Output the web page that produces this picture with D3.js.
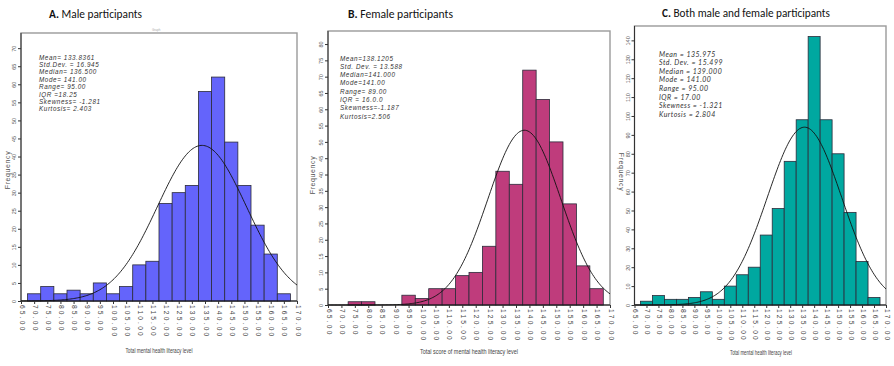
<!DOCTYPE html>
<html>
<head>
<meta charset="utf-8">
<script src="https://cdn.jsdelivr.net/npm/d3@7"></script>
<style>
  body { margin: 0; background: #fff; }
  svg { display: block; }
</style>
</head>
<body>
<div id="vis"></div>
<script>
// bin centres (width 5) and frequencies
const binCenters = [70, 75, 80, 85, 90, 95, 100, 105, 110, 115, 120, 125, 130, 135, 140, 145, 150, 155, 160, 165];
const maleCounts   = [2, 4, 2, 3, 2, 5, 2, 4, 10, 11, 27, 30, 32, 58, 62, 44, 32, 21, 13, 2];
const femaleCounts = [0, 1, 1, 0, 0, 3, 2, 5, 5, 9, 10, 18, 41, 37, 72, 63, 50, 31, 12, 5];
const bothCounts   = [2, 5, 3, 3, 4, 7, 3, 10, 16, 20, 37, 51, 76, 98, 142, 98, 80, 49, 23, 4];

const xTickValues = [65, 70, 75, 80, 85, 90, 95, 100, 105, 110, 115, 120, 125, 130, 135, 140, 145, 150, 155, 160, 165, 170];
const maleYTicks   = [0, 5, 10, 15, 20, 25, 30, 35, 40, 45, 50, 55, 60, 65, 70];
const femaleYTicks = [0, 5, 10, 15, 20, 25, 30, 35, 40, 45, 50, 55, 60, 65, 70, 75, 80];
const bothYTicks   = [0, 10, 20, 30, 40, 50, 60, 70, 80, 90, 100, 110, 120, 130, 140];

// normal fit parameters (from the stats boxes)
const maleFit   = {mean: 133.8361, sd: 16.945};
const femaleFit = {mean: 138.1205, sd: 13.588};
const bothFit   = {mean: 135.975,  sd: 15.499};

const maleStats   = ["Mean= 133.8361", "Std.Dev. = 16.945", "Median= 136.500", "Mode= 141.00", "Range= 95.00", "IQR =18.25", "Skewness= -1.281", "Kurtosis= 2.403"];
const femaleStats = ["Mean=138.1205", "Std. Dev. = 13.588", "Median=141.000", "Mode=141.00", "Range= 89.00", "IQR = 16.0.0", "Skewness=-1.187", "Kurtosis=2.506"];
const bothStats   = ["Mean = 135.975", "Std. Dev. = 15.499", "Median = 139.000", "Mode = 141.00", "Range = 95.00", "IQR = 17.00", "Skewness = -1.321", "Kurtosis = 2.804"];

const panels = [
  {letter: "A.", title: " Male participants", tx: 49, ty: 18, tw: 93,
   counts: maleCounts, yTicks: maleYTicks, fit: maleFit, stats: maleStats,
   x0: 21, x1: 297, top: 33, base: 301, yMax: 74.2, color: "#6464fb",
   sx: 39, sy: 59.5, sdy: 7.4, statFont: "Liberation Sans, Arial, sans-serif", statSize: 6.3, statLs: 0.6,
   xlabel: "Total mental health literacy level", lx: 159, ly: 353, lw: 67,
   fx: 8, fy: 170, frot: -90},
  {letter: "B.", title: " Female participants", tx: 348, ty: 18, tw: 105,
   counts: femaleCounts, yTicks: femaleYTicks, fit: femaleFit, stats: femaleStats,
   x0: 328, x1: 610, top: 31, base: 305, yMax: 84, color: "#bf3c7c",
   sx: 340, sy: 60.5, sdy: 8.3, statFont: "Liberation Sans, Arial, sans-serif", statSize: 6.3, statLs: 0.6,
   xlabel: "Total score of mental health literacy level", lx: 469, ly: 354, lw: 98,
   fx: 313, fy: 175, frot: -90},
  {letter: "C.", title: " Both male and female participants", tx: 662, ty: 17, tw: 168,
   counts: bothCounts, yTicks: bothYTicks, fit: bothFit, stats: bothStats,
   x0: 634.5, x1: 886, top: 26, base: 305, yMax: 147.6, color: "#00a8a0",
   sx: 659, sy: 56.5, sdy: 8.6, statFont: "Lato, Open Sans, sans-serif", statSize: 7, statLs: 0.5,
   xlabel: "Total mental health literacy level", lx: 761, ly: 355, lw: 62,
   fx: 621, fy: 172, frot: 90}
];

const svg = d3.select("#vis").append("svg")
  .attr("width", 894)
  .attr("height", 366)
  .attr("viewBox", [0, 0, 894, 366]);

svg.append("rect").attr("width", 894).attr("height", 366).attr("fill", "#fff");

// small grey caption artefact above panel A
svg.append("text")
  .attr("x", 152).attr("y", 31)
  .attr("font-size", 3).attr("fill", "#aaa")
  .attr("font-family", "Liberation Sans, Arial, sans-serif")
  .text("Graph");

panels.forEach(p => {
  const g = svg.append("g");
  const x = d3.scaleLinear().domain([65, 170]).range([p.x0, p.x1]);
  const y = d3.scaleLinear().domain([0, p.yMax]).range([p.base, p.top]);
  const n = d3.sum(p.counts);

  // title
  const t = g.append("text")
    .attr("x", p.tx).attr("y", p.ty)
    .attr("font-family", "Carlito, Calibri, Lato, sans-serif")
    .attr("font-size", 12.5)
    .attr("textLength", p.tw)
    .attr("lengthAdjust", "spacingAndGlyphs")
    .attr("fill", "#111");
  t.append("tspan").attr("font-weight", "bold").text(p.letter);
  t.append("tspan").text(p.title);

  // frame
  g.append("rect")
    .attr("x", p.x0).attr("y", p.top)
    .attr("width", p.x1 - p.x0).attr("height", p.base - p.top)
    .attr("fill", "none").attr("stroke", "#9a9a9a").attr("stroke-width", 1.4);

  // bars
  g.selectAll("rect.bar")
    .data(binCenters.map((c, i) => ({c, v: p.counts[i]})).filter(d => d.v > 0))
    .join("rect")
      .attr("class", "bar")
      .attr("x", d => x(d.c - 2.5))
      .attr("width", d => x(d.c + 2.5) - x(d.c - 2.5))
      .attr("y", d => y(d.v))
      .attr("height", d => y(0) - y(d.v))
      .attr("fill", p.color)
      .attr("stroke", "#2b2b3a")
      .attr("stroke-width", 0.8);

  // fitted normal curve
  const pts = d3.range(65, 170.01, 0.5);
  const dens = v => n * 5 / (p.fit.sd * Math.sqrt(2 * Math.PI)) *
    Math.exp(-0.5 * Math.pow((v - p.fit.mean) / p.fit.sd, 2));
  g.append("path")
    .datum(pts)
    .attr("fill", "none")
    .attr("stroke", "#111")
    .attr("stroke-width", 0.9)
    .attr("d", d3.line().x(d => x(d)).y(d => y(dens(d))));

  // y axis
  const yAxis = g.append("g")
    .attr("transform", `translate(${p.x0},0)`)
    .call(d3.axisLeft(y).tickValues(p.yTicks).tickSize(3).tickFormat(d3.format("d")));
  yAxis.select(".domain").attr("stroke", "#333").attr("d", `M0,${p.top}V${p.base}`);
  yAxis.selectAll(".tick line").attr("stroke", "#333");
  yAxis.selectAll(".tick text")
    .attr("x", 0).attr("dy", 0)
    .attr("transform", "translate(-5,0) rotate(-90)")
    .attr("text-anchor", "middle")
    .attr("font-size", 5.5)
    .attr("font-family", "Liberation Sans, Arial, sans-serif")
    .attr("fill", "#555");

  // x axis
  const xAxis = g.append("g")
    .attr("transform", `translate(0,${p.base})`)
    .call(d3.axisBottom(x).tickValues(xTickValues).tickSize(3).tickFormat(d3.format(".2f")));
  xAxis.select(".domain").attr("stroke", "#111").attr("stroke-width", 1.2)
    .attr("d", `M${p.x0},0H${p.x1}`);
  xAxis.selectAll(".tick line").attr("stroke", "#333");
  xAxis.selectAll(".tick text")
    .attr("y", 0).attr("dy", 0)
    .attr("transform", "translate(-2,4) rotate(90)")
    .attr("text-anchor", "start")
    .attr("font-size", 6.6)
    .attr("letter-spacing", 2.2)
    .attr("font-family", "Liberation Sans, Arial, sans-serif")
    .attr("fill", "#444");

  // stats box text
  g.selectAll("text.stat")
    .data(p.stats)
    .join("text")
      .attr("class", "stat")
      .attr("x", p.sx)
      .attr("y", (d, i) => p.sy + i * p.sdy)
      .attr("font-family", p.statFont)
      .attr("font-style", "italic")
      .attr("font-size", p.statSize)
      .attr("letter-spacing", p.statLs)
      .attr("fill", "#333")
      .text(d => d);

  // axis titles
  g.append("text")
    .attr("x", p.lx).attr("y", p.ly)
    .attr("text-anchor", "middle")
    .attr("font-family", "Liberation Sans Narrow, Arial Narrow, sans-serif")
    .attr("font-size", 8)
    .attr("textLength", p.lw)
    .attr("lengthAdjust", "spacingAndGlyphs")
    .attr("fill", "#444")
    .text(p.xlabel);

  g.append("text")
    .attr("transform", `translate(${p.fx},${p.fy}) rotate(${p.frot})`)
    .attr("text-anchor", "middle")
    .attr("dy", "0.35em")
    .attr("font-family", "Liberation Sans, Arial, sans-serif")
    .attr("font-size", 7)
    .attr("letter-spacing", 0.6)
    .attr("fill", "#555")
    .text("Frequency");
});
</script>
</body>
</html>
